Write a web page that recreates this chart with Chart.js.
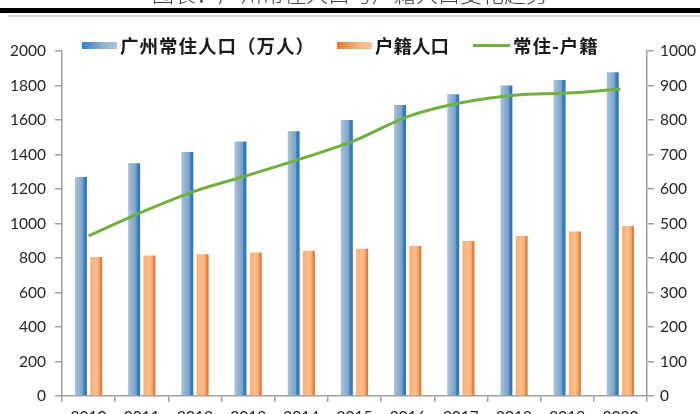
<!DOCTYPE html>
<html>
<head>
<meta charset="utf-8">
<script src="https://cdn.jsdelivr.net/npm/chart.js@4.4.1/dist/chart.umd.min.js"></script>
<style>
  html, body { margin: 0; padding: 0; width: 700px; height: 414px; overflow: hidden; background: #fff; }
  #head { position: absolute; left: 0; top: -16px; width: 700px; height: 24px; border-bottom: 5px solid #000; z-index: 5; }
  #title { position: absolute; left: 0; width: 700px; top: -4px; text-align: center; font-family: "Noto Sans CJK SC", sans-serif; font-weight: 300; font-size: 22px; line-height: 24px; color: #444; white-space: nowrap; }
  #sub { position: absolute; left: 8px; top: 15px; width: 692px; height: 0; border-top: 2px solid #d8d8d8; z-index: 5; }
  #wrap { position: absolute; left: 0; top: 0; width: 700px; height: 440px; z-index: 1; }
  #legend { position: absolute; top: 33px; left: 0; width: 700px; height: 24px; font-family: "Noto Sans CJK SC", sans-serif; font-weight: 700; font-size: 18.5px; color: #1a1a1a; z-index: 4; }
  .li { position: absolute; top: 0; height: 24px; line-height: 24px; white-space: nowrap; }
  .sw { position: absolute; }
</style>
</head>
<body>
<div id="wrap"><canvas id="c" width="700" height="440"></canvas></div>
<div id="head"><div id="title">图表：广州常住人口与户籍人口变化趋势</div></div>
<div id="sub"></div>
<div id="legend">
  <div class="sw" style="left:82px;top:9px;width:35px;height:7px;background:linear-gradient(90deg,#2f7fd0,#8fb0cc 60%,#a9c3da);"></div>
  <div class="li" style="left:120px;letter-spacing:1px;">广州常住人口（万人）</div>
  <div class="sw" style="left:337px;top:9px;width:35px;height:7px;background:linear-gradient(90deg,#ec7a2c,#f7b07a 60%,#f9c49c);"></div>
  <div class="li" style="left:375px;">户籍人口</div>
  <div class="sw" style="left:473px;top:11px;width:37px;height:3px;background:#6fb03f;"></div>
  <div class="li" style="left:513px;letter-spacing:1px;">常住-户籍</div>
</div>
<script>
const years = ["2010","2011","2012","2013","2014","2015","2016","2017","2018","2019","2020"];
const residentPop = [1270, 1350, 1414, 1476, 1535, 1600, 1687, 1750, 1800, 1832, 1877];
const hukouPop = [806, 814, 822, 832, 842, 854, 870, 898, 928, 954, 985];
const diffPop = [464, 533, 594, 640, 688, 740, 810, 850, 872, 878, 890];
const leftTicks = [0, 200, 400, 600, 800, 1000, 1200, 1400, 1600, 1800, 2000];
const rightTicks = [0, 100, 200, 300, 400, 500, 600, 700, 800, 900, 1000];

const CAT_PCT = 0.575, BAR_PCT = 0.78;

function barGradient(context, stops, side) {
  const chart = context.chart;
  const xs = chart.scales && chart.scales.x;
  if (!chart.chartArea || !xs || xs.right === undefined) return stops[1][1];
  const cw = (xs.right - xs.left) / years.length;
  const slot = cw * CAT_PCT / 2;
  const c = xs.getPixelForValue(context.dataIndex) + side * slot / 2;
  const w = slot * BAR_PCT;
  const g = chart.ctx.createLinearGradient(c - w / 2, 0, c + w / 2, 0);
  stops.forEach(s => g.addColorStop(s[0], s[1]));
  return g;
}

const blueStops = [[0, '#a8c2d9'], [0.45, '#8eabc6'], [0.68, '#7d9fc1'], [0.74, '#3384d4'], [1, '#2a73c0']];
const orangeStops = [[0, '#f6ae78'], [0.5, '#f9bf90'], [0.78, '#f5a466'], [0.84, '#ee7f34'], [1, '#e9772c']];

const tickFont = { family: 'Lato, "Liberation Sans", sans-serif', size: 15.5 };
const tickColor = '#262626';
const axisColor = '#a0a0a0';
const plain = v => String(v);

const headerRules = {
  id: 'headerRules',
  beforeDraw(chart) {
    const c = chart.ctx;
    c.save();
    c.fillStyle = '#000000';
    c.fillRect(0, 8, 700, 5);
    c.fillStyle = '#d8d8d8';
    c.fillRect(8, 15, 692, 2);
    c.restore();
  }
};

new Chart(document.getElementById('c'), {
  type: 'bar',
  data: {
    labels: years,
    datasets: [
      {
        label: '广州常住人口（万人）',
        data: residentPop,
        yAxisID: 'y',
        backgroundColor: ctx => barGradient(ctx, blueStops, -1),
        categoryPercentage: CAT_PCT,
        barPercentage: BAR_PCT,
        order: 2
      },
      {
        label: '户籍人口',
        data: hukouPop,
        yAxisID: 'y',
        backgroundColor: ctx => barGradient(ctx, orangeStops, 1),
        categoryPercentage: CAT_PCT,
        barPercentage: BAR_PCT,
        order: 3
      },
      {
        type: 'line',
        label: '常住-户籍',
        data: diffPop,
        yAxisID: 'y1',
        borderColor: '#6fb03f',
        borderWidth: 3,
        pointRadius: 0,
        tension: 0.4,
        cubicInterpolationMode: 'monotone',
        fill: false,
        order: 1
      }
    ]
  },
  plugins: [headerRules],
  options: {
    responsive: false,
    animation: false,
    devicePixelRatio: 1,
    layout: { padding: { top: 51, left: 0, right: 0, bottom: 0 } },
    plugins: { legend: { display: false }, tooltip: { enabled: false }, title: { display: false } },
    scales: {
      x: {
        offset: true,
        grid: { display: true, drawOnChartArea: false, offset: true, tickLength: 6, color: axisColor, lineWidth: 1.5 },
        border: { color: axisColor, width: 1.5 },
        ticks: { font: tickFont, color: tickColor, padding: 6, maxRotation: 0 },
        afterFit: s => { s.height = 44; }
      },
      y: {
        position: 'left',
        min: 0, max: 2000,
        afterBuildTicks: s => { s.ticks = leftTicks.map(v => ({ value: v })); },
        grid: { drawOnChartArea: false, tickLength: 7, color: axisColor, lineWidth: 1.5 },
        border: { color: axisColor, width: 1.5 },
        ticks: { font: tickFont, color: tickColor, padding: 9, callback: plain },
        afterFit: s => { s.width = 62; }
      },
      y1: {
        position: 'right',
        min: 0, max: 1000,
        afterBuildTicks: s => { s.ticks = rightTicks.map(v => ({ value: v })); },
        grid: { drawOnChartArea: false, tickLength: 7, color: axisColor, lineWidth: 1.5 },
        border: { color: axisColor, width: 1.5 },
        ticks: { font: tickFont, color: tickColor, padding: 6, callback: plain },
        afterFit: s => { s.width = 53; }
      }
    }
  }
});
</script>
</body>
</html>
